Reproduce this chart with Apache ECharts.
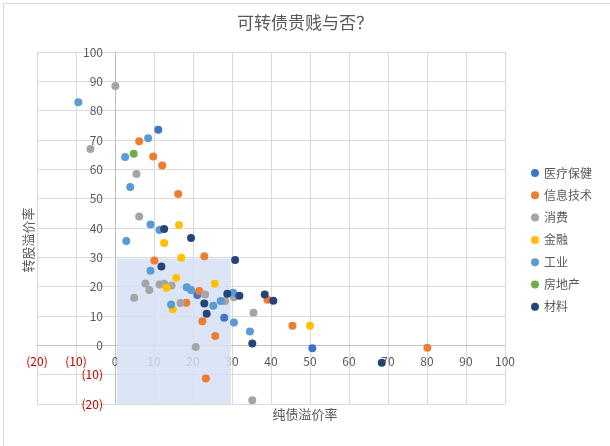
<!DOCTYPE html>
<html>
<head>
<meta charset="utf-8">
<script src="https://cdn.jsdelivr.net/npm/echarts@6/dist/echarts.min.js"></script>
<style>
html,body{margin:0;padding:0;background:#fff;}
#chart{width:610px;height:446px;}
</style>
</head>
<body>
<div id="chart"></div>
<script>
var titleText = '可转债贵贱与否？';
var xTitle = '纯债溢价率';
var yTitle = '转股溢价率';
var seriesNames = ['医疗保健','信息技术','消费','金融','工业','房地产','材料'];
var seriesColors = ['#4472C4','#ED7D31','#A5A5A5','#FFC000','#5B9BD5','#70AD47','#264478'];

var healthcare = [[11.1,73.5],[21.1,17.2],[28.0,9.4],[50.6,-1.0]];
var infoTech = [[6.2,69.6],[9.8,64.4],[12.1,61.3],[16.2,51.6],[10.1,28.9],[22.9,30.4],[21.6,18.5],[18.3,14.5],[22.4,8.2],[25.7,3.2],[23.3,-11.3],[39.1,15.5],[45.5,6.7],[80.1,-0.8]];
var consumer = [[0.1,88.4],[-6.3,66.9],[5.5,58.4],[6.2,43.9],[7.8,21.1],[8.8,18.9],[4.9,16.2],[11.4,20.7],[12.6,21.0],[14.5,20.4],[16.8,14.4],[23.1,17.3],[28.2,15.1],[30.5,16.4],[35.5,11.1],[20.7,-0.6],[35.2,-18.7]];
var finance = [[16.4,41.0],[12.6,34.9],[17.0,29.9],[15.7,23.0],[13.2,19.6],[25.6,21.0],[14.8,12.3],[50.0,6.7]];
var industry = [[-9.4,82.9],[8.5,70.6],[2.6,64.2],[3.9,54.0],[9.1,41.2],[11.4,39.3],[2.9,35.6],[9.1,25.4],[18.4,19.8],[19.5,18.9],[14.4,13.9],[25.2,13.5],[27.1,15.1],[30.3,17.9],[30.5,7.8],[34.6,4.7]];
var realEstate = [[4.8,65.3]];
var materials = [[12.6,39.7],[19.5,36.6],[30.8,29.1],[11.9,26.9],[28.8,17.6],[31.9,16.9],[22.9,14.3],[23.5,10.8],[38.4,17.3],[40.6,15.2],[35.2,0.6],[68.4,-5.9]];
var seriesData = [healthcare, infoTech, consumer, finance, industry, realEstate, materials];

var cheapZone = [[0.5,-20],[29.7,29.6]];
var axisMin = -20, axisMax = 100, axisStep = 10;

var fontFam = '"Noto Sans CJK SC", "Microsoft YaHei", sans-serif';
function fmt(v){ return v < 0 ? '(' + (-v) + ')' : String(v); }
function lblColor(v){ return Number(v) < 0 ? '#c00000' : '#595959'; }

var gridL = 37, gridR = 105, gridT = 52, gridB = 42;
var W = 610, H = 446;
var gridW = W - gridL - gridR, gridH = H - gridT - gridB;
// offset so that each axis sits at the other axis's zero
var yAxisShift = -(0 - axisMin) / (axisMax - axisMin) * gridW;
var xAxisShift = -(0 - axisMin) / (axisMax - axisMin) * gridH;

var chart = echarts.init(document.getElementById('chart'), null, {renderer:'canvas'});

var series = [{
  name: 'zone',
  type: 'scatter',
  data: [],
  z: 1,
  silent: true,
  markArea: {
    silent: true,
    itemStyle: {color: 'rgba(214,224,243,0.85)'},
    data: [[{coord: cheapZone[0]}, {coord: cheapZone[1]}]]
  }
}];
seriesNames.forEach(function(n, i){
  series.push({
    name: n,
    type: 'scatter',
    data: seriesData[i],
    symbolSize: 8,
    z: 3,
    itemStyle: {color: seriesColors[i], opacity: 1}
  });
});

chart.setOption({
  animation: false,
  color: seriesColors,
  textStyle: {fontFamily: fontFam},
  title: {
    text: titleText, left: 'center', top: 9,
    textStyle: {fontSize: 17, fontWeight: 'normal', color: '#595959', fontFamily: fontFam}
  },
  legend: {
    data: seriesNames, orient: 'vertical', left: 526, top: 162,
    icon: 'circle', itemWidth: 8, itemHeight: 8, itemGap: 10.3,
    textStyle: {fontSize: 12, color: '#595959', fontFamily: fontFam}
  },
  grid: {left: gridL, right: gridR, top: gridT, bottom: gridB, containLabel: false},
  xAxis: {
    type: 'value', min: axisMin, max: axisMax, interval: axisStep,
    offset: xAxisShift,
    axisLine: {onZero: false, lineStyle: {color: '#bfbfbf'}},
    axisTick: {show: false},
    axisLabel: {formatter: fmt, color: lblColor, fontSize: 12, margin: 10, showMinLabel: true, showMaxLabel: true},
    splitLine: {lineStyle: {color: '#d9d9d9'}}
  },
  yAxis: {
    type: 'value', min: axisMin, max: axisMax, interval: axisStep,
    offset: yAxisShift,
    axisLine: {onZero: false, lineStyle: {color: '#bfbfbf'}},
    axisTick: {show: false},
    axisLabel: {formatter: fmt, color: lblColor, fontSize: 12, margin: 12, showMinLabel: true, showMaxLabel: true},
    splitLine: {lineStyle: {color: '#d9d9d9'}}
  },
  graphic: [
    {type: 'rect', left: 1, top: 1, shape: {width: 607, height: 443}, style: {fill: 'none', stroke: '#d9d9d9', lineWidth: 1}, silent: true},
    {type: 'text', left: 'center', top: 408, style: {text: xTitle, fontSize: 13, fill: '#595959', fontFamily: fontFam}},
    {type: 'text', rotation: Math.PI/2, x: 28, y: 240, style: {text: yTitle, fontSize: 13, fill: '#595959', fontFamily: fontFam, align: 'center', verticalAlign: 'middle'}}
  ],
  series: series
});
</script>
</body>
</html>
